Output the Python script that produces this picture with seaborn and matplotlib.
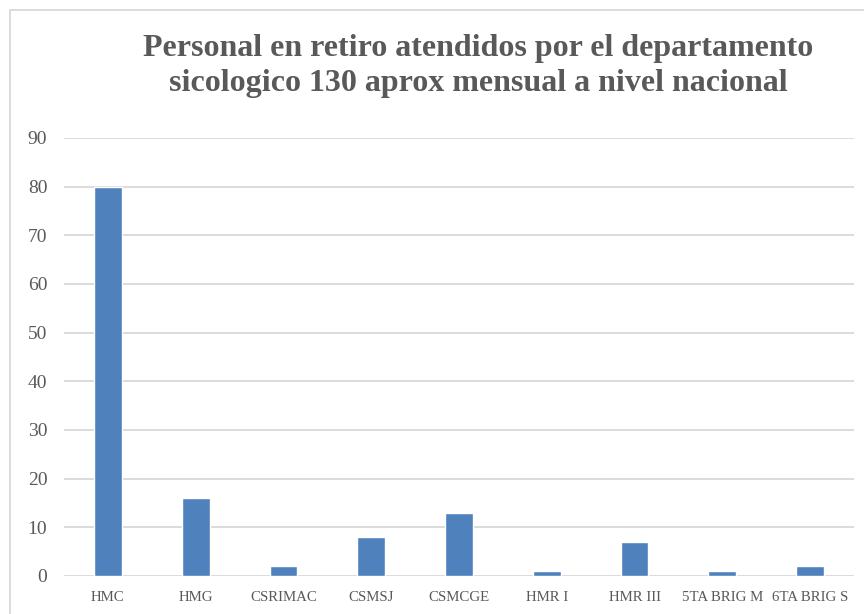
import matplotlib
matplotlib.use("Agg")
import matplotlib.pyplot as plt
import seaborn as sns
from matplotlib.lines import Line2D

categories = ["HMC", "HMG", "CSRIMAC", "CSMSJ", "CSMCGE", "HMR I", "HMR III",
              "5TA BRIG M", "6TA BRIG S"]
values = [80, 16, 2, 8, 13, 1, 7, 1, 2]
y_ticks = [0, 10, 20, 30, 40, 50, 60, 70, 80, 90]
title = ("Personal en retiro atendidos por el departamento\n"
         "sicologico 130 aprox mensual a nivel nacional")

bar_color = "#4F81BD"
grid_color = "#D9D9D9"
text_color = "#595959"

sns.set_theme(style="white")
plt.rcParams["font.family"] = ["Liberation Serif", "DejaVu Serif"]

W, H = 864, 614
fig = plt.figure(figsize=(W / 100, H / 100), dpi=100)
fig.patch.set_facecolor("white")

# chart area frame (only left and top visible)
fig.add_artist(Line2D([10 / W, 10 / W], [0, 1 - 10 / H], transform=fig.transFigure,
                      color=grid_color, lw=1.3))
fig.add_artist(Line2D([10 / W, 1], [1 - 10 / H, 1 - 10 / H], transform=fig.transFigure,
                      color=grid_color, lw=1.3))

ax = fig.add_axes([64 / W, 1 - 576 / H, 790 / W, (576 - 138) / H])
sns.barplot(x=categories, y=values, color=bar_color, width=0.316,
            saturation=1, ax=ax, zorder=3)

ax.set_ylim(0, 90)
ax.set_xlim(-0.5, len(categories) - 0.5)
ax.set_yticks(y_ticks)
ax.yaxis.grid(True, color=grid_color, lw=1.3)
ax.set_axisbelow(True)
for s in ax.spines.values():
    s.set_visible(False)
ax.tick_params(axis="y", length=0, pad=12, labelsize=14, labelcolor=text_color)
ax.tick_params(axis="x", length=0, pad=11, labelsize=10.7, labelcolor=text_color)

fig.text(478 / W, 1 - 66 / H, title, ha="center", va="center", fontsize=23,
         fontweight="bold", color=text_color, linespacing=1.25)

fig.savefig("out.png", dpi=100)
